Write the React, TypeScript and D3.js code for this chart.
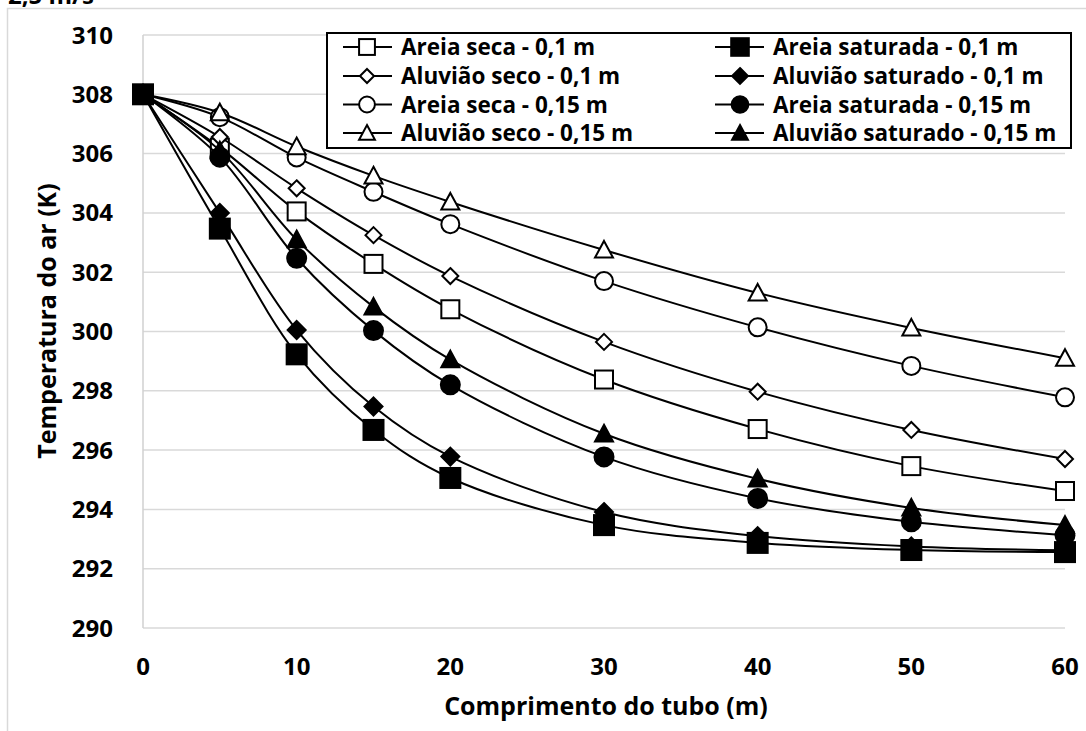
import React from "react";
import * as d3 from "d3";

const distances = [0, 5, 10, 15, 20, 30, 40, 50, 60];
const yTicks = [290, 292, 294, 296, 298, 300, 302, 304, 306, 308, 310];
const xTicks = [0, 10, 20, 30, 40, 50, 60];

const areiaSeca01 = [308, 306.2, 304.05, 302.28, 300.75, 298.38, 296.71, 295.46, 294.62];
const aluviaoSeco01 = [308, 306.56, 304.83, 303.25, 301.87, 299.65, 297.97, 296.68, 295.7];
const areiaSeca015 = [308, 307.23, 305.87, 304.71, 303.62, 301.7, 300.14, 298.84, 297.78];
const aluviaoSeco015 = [308, 307.38, 306.24, 305.25, 304.37, 302.75, 301.3, 300.12, 299.1];
const areiaSat01 = [308, 303.47, 299.23, 296.68, 295.06, 293.47, 292.87, 292.63, 292.56];
const aluviaoSat01 = [308, 304.0, 300.05, 297.47, 295.78, 293.91, 293.1, 292.75, 292.62];
const areiaSat015 = [308, 305.88, 302.47, 300.03, 298.2, 295.77, 294.37, 293.58, 293.13];
const aluviaoSat015 = [308, 306.1, 303.1, 300.83, 299.05, 296.55, 295.03, 294.05, 293.47];

type Shape = "square" | "diamond" | "circle" | "triangle";
const series: { name: string; values: number[]; shape: Shape; filled: boolean }[] = [
  { name: "Areia seca - 0,1 m", values: areiaSeca01, shape: "square", filled: false },
  { name: "Aluvião seco - 0,1 m", values: aluviaoSeco01, shape: "diamond", filled: false },
  { name: "Areia seca - 0,15 m", values: areiaSeca015, shape: "circle", filled: false },
  { name: "Aluvião seco - 0,15 m", values: aluviaoSeco015, shape: "triangle", filled: false },
  { name: "Areia saturada - 0,1 m", values: areiaSat01, shape: "square", filled: true },
  { name: "Aluvião saturado - 0,1 m", values: aluviaoSat01, shape: "diamond", filled: true },
  { name: "Areia saturada - 0,15 m", values: areiaSat015, shape: "circle", filled: true },
  { name: "Aluvião saturado - 0,15 m", values: aluviaoSat015, shape: "triangle", filled: true },
];

const FONT = "'Open Sans', Lato, sans-serif";

function Marker({ x, y, shape, filled, s = 1 }: { x: number; y: number; shape: Shape; filled: boolean; s?: number }) {
  const fill = filled ? "#000" : "#fff";
  const sw = 2;
  if (shape === "square") {
    const h = (filled ? 10 : 9) * s;
    return <rect x={x - h} y={y - h} width={2 * h} height={2 * h} fill={fill} stroke="#000" strokeWidth={sw} />;
  }
  if (shape === "circle") {
    return <circle cx={x} cy={y} r={(filled ? 9.5 : 9) * s} fill={fill} stroke="#000" strokeWidth={sw} />;
  }
  if (shape === "diamond") {
    const h = (filled ? 9 : 8) * s;
    return <path d={`M${x},${y - h}L${x + h},${y}L${x},${y + h}L${x - h},${y}Z`} fill={fill} stroke="#000" strokeWidth={sw} />;
  }
  const w = 9 * s;
  const t = 9 * s;
  return <path d={`M${x},${y - t}L${x + w},${y + t * 0.85}L${x - w},${y + t * 0.85}Z`} fill={fill} stroke="#000" strokeWidth={sw} strokeLinejoin="miter" />;
}

export default function App() {
  const W = 1086, H = 731;
  const x = d3.scaleLinear().domain([0, 60]).range([143, 1065]);
  const y = d3.scaleLinear().domain([290, 310]).range([628, 35]);
  const line = d3
    .line<number>()
    .x((_, i) => x(distances[i]))
    .y((d) => y(d))
    .curve(d3.curveCatmullRom.alpha(0.5));

  const legendRows = [47, 76, 104.5, 133];
  const legendCols = [{ lx: 343, sx: 367, tx: 401 }, { lx: 715, sx: 740, tx: 773 }];

  return (
    <svg width={W} height={H} style={{ position: "absolute", left: 0, top: 0, background: "#fff" }} fontFamily={FONT}>
      <rect x={0} y={0} width={W} height={H} fill="#fff" />
      <rect x={7.5} y={8.5} width={1200} height={900} fill="none" stroke="#d9d9d9" strokeWidth={1.5} />
      <text x={8} y={4} fontSize={24} fontWeight="bold">2,5 m/s</text>

      {yTicks.map((t) => (
        <line key={"g" + t} x1={x(0)} x2={x(60)} y1={y(t)} y2={y(t)} stroke="#d9d9d9" strokeWidth={1.5} />
      ))}
      <line x1={x(0)} x2={x(0)} y1={y(310)} y2={y(290)} stroke="#d0d0d0" strokeWidth={1.5} />

      {yTicks.map((t) => (
        <text key={"yl" + t} x={113} y={y(t) + 8.5} fontSize={24} fontWeight="bold" textAnchor="end">{t}</text>
      ))}
      {xTicks.map((t) => (
        <text key={"xl" + t} x={x(t)} y={675} fontSize={24} fontWeight="bold" textAnchor="middle">{t}</text>
      ))}
      <text x={606} y={715} fontSize={25} fontWeight="bold" textAnchor="middle">Comprimento do tubo (m)</text>
      <text transform={`translate(56,321) rotate(-90)`} fontSize={25} fontWeight="bold" textAnchor="middle">Temperatura do ar (K)</text>

      {series.map((s) => (
        <g key={s.name}>
          <path d={line(s.values) || ""} fill="none" stroke="#000" strokeWidth={2} />
          {s.values.map((v, i) => (
            <Marker key={i} x={x(distances[i])} y={y(v)} shape={s.shape} filled={s.filled} />
          ))}
        </g>
      ))}

      <rect x={327} y={33} width={744} height={115} fill="#fff" stroke="#000" strokeWidth={2} />
      {series.map((s, i) => {
        const col = legendCols[i < 4 ? 0 : 1];
        const ry = legendRows[i % 4];
        return (
          <g key={"lg" + s.name}>
            <line x1={col.lx} x2={col.lx + 49} y1={ry} y2={ry} stroke="#000" strokeWidth={2} />
            <Marker x={col.sx} y={ry} shape={s.shape} filled={s.filled} s={0.88} />
            <text x={col.tx} y={ry + 8} fontSize={22.5} fontWeight="bold">{s.name}</text>
          </g>
        );
      })}
    </svg>
  );
}
